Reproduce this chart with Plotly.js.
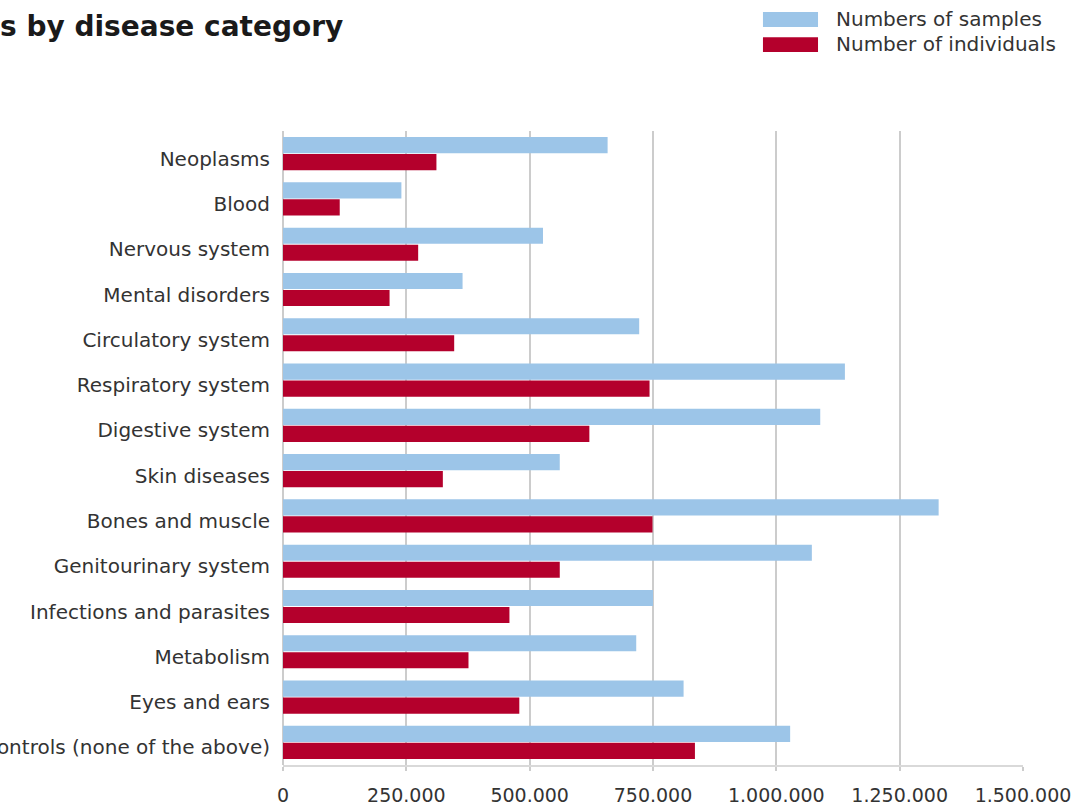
<!DOCTYPE html>
<html>
<head>
<meta charset="utf-8">
<script src="https://cdn.plot.ly/plotly-3.0.1.min.js"></script>
<style>html,body{margin:0;padding:0;background:#fff;overflow:hidden}</style>
</head>
<body>
<div id="chart" style="width:1090px;height:806px"></div>
<script>
const categories = [
  "Neoplasms", "Blood", "Nervous system", "Mental disorders", "Circulatory system",
  "Respiratory system", "Digestive system", "Skin diseases", "Bones and muscle",
  "Genitourinary system", "Infections and parasites", "Metabolism", "Eyes and ears",
  "Controls (none of the above)"
];
const samples = [658000, 240000, 527000, 364000, 722000, 1139000, 1089000, 561000, 1329000, 1072000, 750000, 716000, 812000, 1028000];
const individuals = [311000, 115000, 274000, 216000, 347000, 743000, 621000, 324000, 749000, 561000, 459000, 376000, 479000, 835000];
const seriesNames = ["Numbers of samples", "Number of individuals"];
const tickValues = [0, 250000, 500000, 750000, 1000000, 1250000, 1500000];
const titleText = "s by disease category";

const BLUE = "#9cc5e8", RED = "#b4002c";
const FONT = "DejaVu Sans, sans-serif";

const traces = [
  {type: "bar", orientation: "h", name: seriesNames[0], y: categories, x: samples,
   marker: {color: BLUE}, hoverinfo: "x+y"},
  {type: "bar", orientation: "h", name: seriesNames[1], y: categories, x: individuals,
   marker: {color: RED}, hoverinfo: "x+y"}
];

const layout = {
  width: 1090, height: 806,
  margin: {l: 283, r: 67, t: 131, b: 41, pad: 0},
  paper_bgcolor: "#fff", plot_bgcolor: "#fff",
  separators: ",.",
  showlegend: false,
  barmode: "group", bargap: 0.25, bargroupgap: 0.05,
  font: {family: FONT, color: "#333", size: 20},
  title: {text: titleText, x: 0, xref: "container", xanchor: "left",
          y: 0.968, yref: "container", yanchor: "middle",
          font: {family: FONT, size: 28, color: "#1a1a1a", weight: 700}},
  xaxis: {range: [0, 1500000], tickvals: tickValues, tickformat: ",d",
          showgrid: true, gridcolor: "#cccccc", gridwidth: 2,
          zeroline: true, zerolinecolor: "#cccccc", zerolinewidth: 2,
          showline: true, linecolor: "#d9d9d9", linewidth: 1.5,
          ticks: "outside", ticklen: 4, tickcolor: "#cccccc", tickwidth: 2,
          ticklabelstandoff: 9,
          tickfont: {family: FONT, size: 19, color: "#333"}, fixedrange: true},
  yaxis: {autorange: "reversed", ticks: "", showline: false, showgrid: false,
          ticklabelstandoff: 12, ticklabelshift: -5,
          tickfont: {family: FONT, size: 20, color: "#333"}, fixedrange: true},
  shapes: [
    {type: "rect", xref: "paper", yref: "paper", x0: 0.6486, x1: 0.723,
     y0: 1.164, y1: 1.1877, fillcolor: BLUE, line: {width: 0}},
    {type: "rect", xref: "paper", yref: "paper", x0: 0.6486, x1: 0.723,
     y0: 1.1246, y1: 1.148, fillcolor: RED, line: {width: 0}}
  ],
  annotations: [
    {xref: "paper", yref: "paper", x: (834-283)/740, y: 1 + (131-19)/634, xanchor: "left", yanchor: "middle",
     text: seriesNames[0], showarrow: false, font: {family: FONT, size: 20, color: "#333"}},
    {xref: "paper", yref: "paper", x: (834-283)/740, y: 1 + (131-44)/634, xanchor: "left", yanchor: "middle",
     text: seriesNames[1], showarrow: false, font: {family: FONT, size: 20, color: "#333"}}
  ]
};

Plotly.newPlot("chart", traces, layout, {displayModeBar: false, staticPlot: true});
</script>
</body>
</html>
